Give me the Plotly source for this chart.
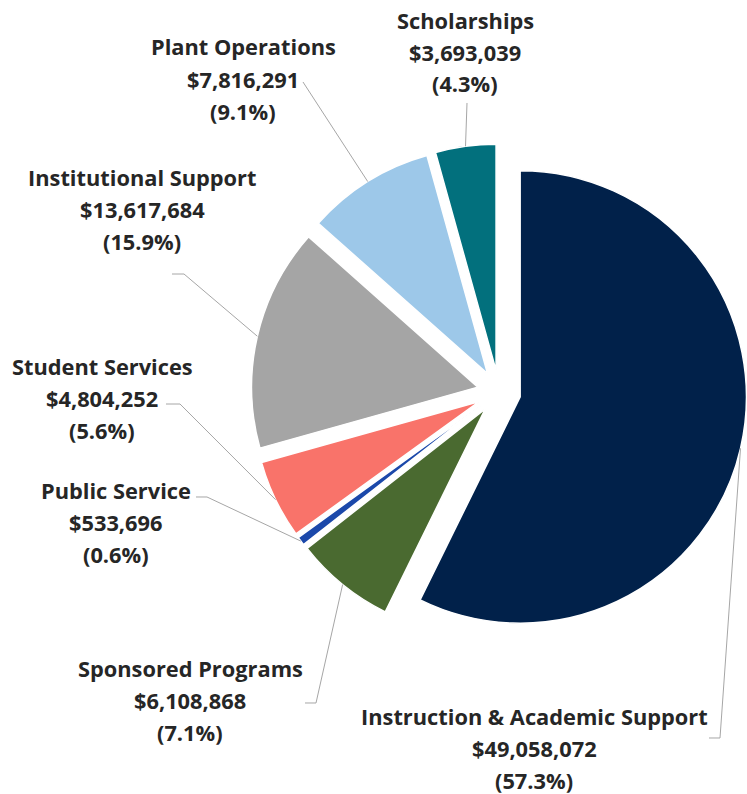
import math
import plotly.graph_objects as go

# Operating expenses by function
categories = [
    "Instruction & Academic Support",
    "Sponsored Programs",
    "Public Service",
    "Student Services",
    "Institutional Support",
    "Plant Operations",
    "Scholarships",
]
amounts = [49058072, 6108868, 533696, 4804252, 13617684, 7816291, 3693039]
colors = ["#01214A", "#4A6A30", "#1B48AA", "#F9736A", "#A5A5A5", "#9DC8E9", "#02707D"]

W, H = 747, 794
PULL = 0.096
PIE_CX, PIE_CY, PIE_HALF = 499.0, 392.0, 248.0  # px: centre and outer extent of pulled slices

# label layout (px): centre x, first-line y; leader start and elbow points
label_pos = [
    (534, 716), (190, 668), (116, 490), (102, 366),
    (142, 177), (243, 47), (465, 20),
]
leader_start = [
    [(709, 738), (720, 738)],
    [(305, 703), (316, 703)],
    [(196, 497), (207, 497)],
    [(166, 404), (180, 404)],
    [(172, 274), (184, 274)],
    [(303, 82)],
    [(467, 103)],
]
LINE_STEP = 32
FONT = dict(family="'Open Sans', 'Noto Sans', sans-serif", size=21.8, color="#262626")


def px_to_paper(x, y):
    return x / W, 1 - y / H


total = sum(amounts)
fig = go.Figure(
    go.Pie(
        labels=categories,
        values=amounts,
        sort=False,
        direction="clockwise",
        rotation=0,
        pull=[PULL] * len(amounts),
        marker=dict(colors=colors, line=dict(color="white", width=1.5)),
        textinfo="none",
        hoverinfo="label+value+percent",
        showlegend=False,
        domain=dict(
            x=[(PIE_CX - PIE_HALF) / W, min(1.0, (PIE_CX + PIE_HALF) / W)],
            y=[1 - (PIE_CY + PIE_HALF) / H, 1 - (PIE_CY - PIE_HALF) / H],
        ),
    )
)

annotations = []
shapes = []
cum = 0.0
for i, (name, val) in enumerate(zip(categories, amounts)):
    frac = val / total
    mid = (cum + frac / 2) * 2 * math.pi
    cum += frac
    # point on the outer arc of the pulled slice, along its bisector
    ax = PIE_CX + PIE_HALF * math.sin(mid)
    ay = PIE_CY - PIE_HALF * math.cos(mid)

    lines = [name, f"${val:,.0f}", f"({frac * 100:.1f}%)"]
    cx, y0 = label_pos[i]
    for k, txt in enumerate(lines):
        x, y = px_to_paper(cx, y0 + k * LINE_STEP)
        annotations.append(dict(
            x=x, y=y, xref="paper", yref="paper", text=f"<b>{txt}</b>",
            showarrow=False, xanchor="center", yanchor="middle", font=FONT,
        ))

    pts = leader_start[i] + [(ax, ay)]
    path = "M " + " L ".join(
        f"{px_to_paper(px, py)[0]:.5f},{px_to_paper(px, py)[1]:.5f}" for px, py in pts
    )
    shapes.append(dict(type="path", path=path, xref="paper", yref="paper",
                       line=dict(color="#A6A6A6", width=1)))

fig.update_layout(
    width=W, height=H,
    margin=dict(l=0, r=0, t=0, b=0),
    paper_bgcolor="white",
    plot_bgcolor="white",
    annotations=annotations,
    shapes=shapes,
)

fig.write_html("out.html")
